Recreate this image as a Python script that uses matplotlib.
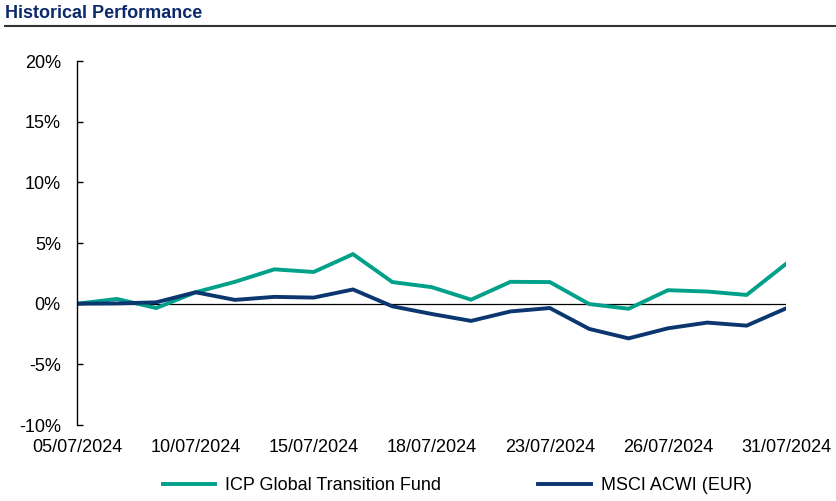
import matplotlib.pyplot as plt
from matplotlib.ticker import FuncFormatter

plt.rcParams['font.family'] = ['Liberation Sans', 'DejaVu Sans']

dates = ['05/07/2024', '08/07/2024', '09/07/2024', '10/07/2024', '11/07/2024',
         '12/07/2024', '15/07/2024', '16/07/2024', '17/07/2024', '18/07/2024',
         '19/07/2024', '22/07/2024', '23/07/2024', '24/07/2024', '25/07/2024',
         '26/07/2024', '29/07/2024', '30/07/2024', '31/07/2024']
fund = [0.0, 0.39, -0.36, 0.94, 1.8, 2.83, 2.61, 4.08, 1.78, 1.36,
        0.33, 1.8, 1.78, -0.03, -0.42, 1.11, 1.0, 0.72, 3.28]
index = [0.0, 0.02, 0.11, 0.94, 0.31, 0.56, 0.5, 1.17, -0.22, -0.85,
         -1.42, -0.64, -0.36, -2.08, -2.86, -2.03, -1.56, -1.81, -0.39]
shown_labels = ['05/07/2024', '10/07/2024', '15/07/2024', '18/07/2024',
                '23/07/2024', '26/07/2024', '31/07/2024']

teal = '#00a08a'
navy = '#0b3670'

fig = plt.figure(figsize=(8.37, 5.01), dpi=100)
ax = fig.add_axes([77.5 / 837, 1 - 425 / 501, (786 - 77.5) / 837, (425 - 61) / 501])

x = list(range(len(dates)))
ax.plot(x, fund, color=teal, lw=2.8, label='ICP Global Transition Fund', solid_joinstyle='miter')
ax.plot(x, index, color=navy, lw=2.8, label='MSCI ACWI (EUR)', solid_joinstyle='miter')
ax.plot([0, len(dates) - 1], [0, 0], color='black', lw=0.9, zorder=1)

ax.set_xlim(0, len(dates) - 1)
ax.set_ylim(-10, 20)
ax.set_yticks([-10, -5, 0, 5, 10, 15, 20])
ax.yaxis.set_major_formatter(FuncFormatter(lambda v, p: '{:.0f}%'.format(v)))
ax.set_xticks([dates.index(d) for d in shown_labels])
ax.set_xticklabels(shown_labels)

for s in ['top', 'right', 'bottom']:
    ax.spines[s].set_visible(False)
ax.spines['left'].set_linewidth(1.0)
ax.tick_params(axis='y', direction='in', length=4, width=1.0, pad=12, labelsize=13)
ax.tick_params(axis='x', length=0, pad=10, labelsize=13)

fig.legend(loc='center', bbox_to_anchor=(457 / 837, 1 - 486 / 501), ncol=2, frameon=False,
           fontsize=13, handlelength=2.9, handletextpad=0.55, columnspacing=5.4)

fig.text(5 / 837, 1 - 14 / 501, 'Historical Performance', fontsize=13, fontweight='bold',
         color='#0b2a6b', va='center', ha='left')
fig.add_artist(plt.Line2D([5 / 837, 1], [1 - 26 / 501, 1 - 26 / 501], color='#333333', lw=1.5))

fig.savefig('out.png', dpi=100)
